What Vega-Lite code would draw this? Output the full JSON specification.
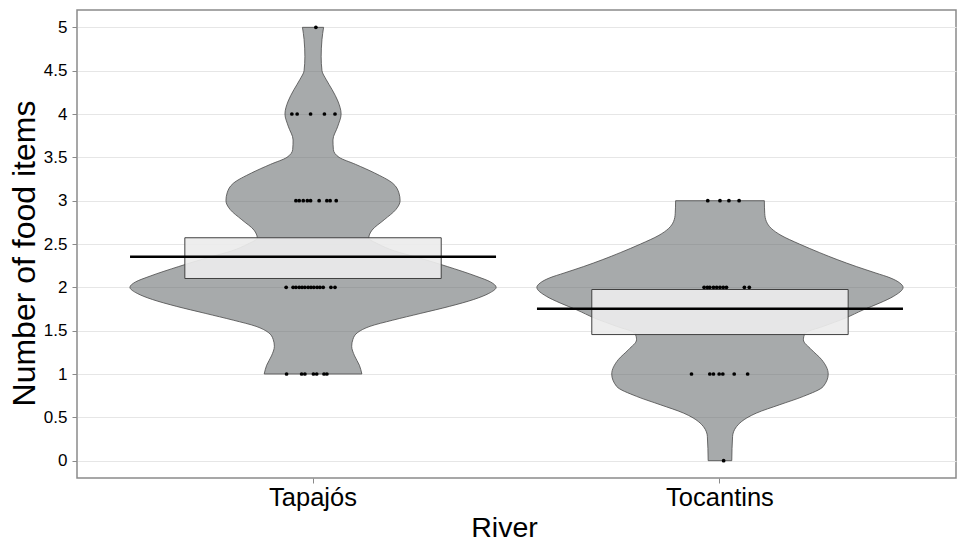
{
  "$schema": "https://vega.github.io/schema/vega-lite/v6.json",
  "width": 879,
  "height": 468,
  "autosize": {"type": "none"},
  "padding": {"left": 77, "top": 10, "right": 1, "bottom": 64},
  "background": "white",
  "datasets": {
    "bean": [
      {"river": "Tapajós", "y": 5.0, "xl": 0.974, "xr": 1.026},
      {"river": "Tapajós", "y": 4.86, "xl": 0.978, "xr": 1.022},
      {"river": "Tapajós", "y": 4.66, "xl": 0.980, "xr": 1.020},
      {"river": "Tapajós", "y": 4.5, "xl": 0.978, "xr": 1.022},
      {"river": "Tapajós", "y": 4.4, "xl": 0.968, "xr": 1.032},
      {"river": "Tapajós", "y": 4.28, "xl": 0.953, "xr": 1.047},
      {"river": "Tapajós", "y": 4.15, "xl": 0.939, "xr": 1.061},
      {"river": "Tapajós", "y": 4.0, "xl": 0.931, "xr": 1.069},
      {"river": "Tapajós", "y": 3.86, "xl": 0.939, "xr": 1.061},
      {"river": "Tapajós", "y": 3.7, "xl": 0.951, "xr": 1.049},
      {"river": "Tapajós", "y": 3.59, "xl": 0.950, "xr": 1.050},
      {"river": "Tapajós", "y": 3.5, "xl": 0.936, "xr": 1.064},
      {"river": "Tapajós", "y": 3.42, "xl": 0.896, "xr": 1.104},
      {"river": "Tapajós", "y": 3.32, "xl": 0.849, "xr": 1.151},
      {"river": "Tapajós", "y": 3.2, "xl": 0.804, "xr": 1.196},
      {"river": "Tapajós", "y": 3.09, "xl": 0.789, "xr": 1.211},
      {"river": "Tapajós", "y": 3.0, "xl": 0.786, "xr": 1.214},
      {"river": "Tapajós", "y": 2.9, "xl": 0.796, "xr": 1.204},
      {"river": "Tapajós", "y": 2.78, "xl": 0.825, "xr": 1.175},
      {"river": "Tapajós", "y": 2.66, "xl": 0.855, "xr": 1.145},
      {"river": "Tapajós", "y": 2.57, "xl": 0.863, "xr": 1.137},
      {"river": "Tapajós", "y": 2.5, "xl": 0.840, "xr": 1.160},
      {"river": "Tapajós", "y": 2.42, "xl": 0.800, "xr": 1.200},
      {"river": "Tapajós", "y": 2.35, "xl": 0.747, "xr": 1.253},
      {"river": "Tapajós", "y": 2.24, "xl": 0.670, "xr": 1.330},
      {"river": "Tapajós", "y": 2.13, "xl": 0.600, "xr": 1.400},
      {"river": "Tapajós", "y": 2.06, "xl": 0.563, "xr": 1.437},
      {"river": "Tapajós", "y": 2.0, "xl": 0.550, "xr": 1.450},
      {"river": "Tapajós", "y": 1.93, "xl": 0.568, "xr": 1.432},
      {"river": "Tapajós", "y": 1.86, "xl": 0.605, "xr": 1.395},
      {"river": "Tapajós", "y": 1.78, "xl": 0.665, "xr": 1.335},
      {"river": "Tapajós", "y": 1.7, "xl": 0.735, "xr": 1.265},
      {"river": "Tapajós", "y": 1.62, "xl": 0.805, "xr": 1.195},
      {"river": "Tapajós", "y": 1.55, "xl": 0.860, "xr": 1.140},
      {"river": "Tapajós", "y": 1.48, "xl": 0.890, "xr": 1.110},
      {"river": "Tapajós", "y": 1.4, "xl": 0.902, "xr": 1.098},
      {"river": "Tapajós", "y": 1.32, "xl": 0.905, "xr": 1.095},
      {"river": "Tapajós", "y": 1.21, "xl": 0.898, "xr": 1.102},
      {"river": "Tapajós", "y": 1.1, "xl": 0.886, "xr": 1.114},
      {"river": "Tapajós", "y": 1.0, "xl": 0.880, "xr": 1.120},
      {"river": "Tocantins", "y": 3.0, "xl": 1.891, "xr": 2.109},
      {"river": "Tocantins", "y": 2.85, "xl": 1.890, "xr": 2.110},
      {"river": "Tocantins", "y": 2.76, "xl": 1.886, "xr": 2.114},
      {"river": "Tocantins", "y": 2.68, "xl": 1.874, "xr": 2.126},
      {"river": "Tocantins", "y": 2.6, "xl": 1.850, "xr": 2.150},
      {"river": "Tocantins", "y": 2.5, "xl": 1.805, "xr": 2.195},
      {"river": "Tocantins", "y": 2.4, "xl": 1.755, "xr": 2.245},
      {"river": "Tocantins", "y": 2.32, "xl": 1.712, "xr": 2.288},
      {"river": "Tocantins", "y": 2.24, "xl": 1.665, "xr": 2.335},
      {"river": "Tocantins", "y": 2.165, "xl": 1.617, "xr": 2.383},
      {"river": "Tocantins", "y": 2.11, "xl": 1.582, "xr": 2.418},
      {"river": "Tocantins", "y": 2.05, "xl": 1.558, "xr": 2.442},
      {"river": "Tocantins", "y": 2.0, "xl": 1.550, "xr": 2.450},
      {"river": "Tocantins", "y": 1.895, "xl": 1.574, "xr": 2.426},
      {"river": "Tocantins", "y": 1.82, "xl": 1.607, "xr": 2.393},
      {"river": "Tocantins", "y": 1.74, "xl": 1.648, "xr": 2.352},
      {"river": "Tocantins", "y": 1.645, "xl": 1.692, "xr": 2.308},
      {"river": "Tocantins", "y": 1.55, "xl": 1.746, "xr": 2.254},
      {"river": "Tocantins", "y": 1.47, "xl": 1.791, "xr": 2.209},
      {"river": "Tocantins", "y": 1.395, "xl": 1.795, "xr": 2.205},
      {"river": "Tocantins", "y": 1.28, "xl": 1.775, "xr": 2.225},
      {"river": "Tocantins", "y": 1.165, "xl": 1.750, "xr": 2.250},
      {"river": "Tocantins", "y": 1.0, "xl": 1.734, "xr": 2.266},
      {"river": "Tocantins", "y": 0.857, "xl": 1.746, "xr": 2.254},
      {"river": "Tocantins", "y": 0.742, "xl": 1.795, "xr": 2.205},
      {"river": "Tocantins", "y": 0.646, "xl": 1.853, "xr": 2.147},
      {"river": "Tocantins", "y": 0.55, "xl": 1.910, "xr": 2.090},
      {"river": "Tocantins", "y": 0.435, "xl": 1.951, "xr": 2.049},
      {"river": "Tocantins", "y": 0.28, "xl": 1.969, "xr": 2.031},
      {"river": "Tocantins", "y": 0.0, "xl": 1.971, "xr": 2.029}
    ],
    "pts": [
      {"river": "Tapajós", "x": 1.007, "y": 5},
      {"river": "Tapajós", "x": 0.948, "y": 4},
      {"river": "Tapajós", "x": 0.961, "y": 4},
      {"river": "Tapajós", "x": 0.994, "y": 4},
      {"river": "Tapajós", "x": 1.028, "y": 4},
      {"river": "Tapajós", "x": 1.054, "y": 4},
      {"river": "Tapajós", "x": 0.958, "y": 3},
      {"river": "Tapajós", "x": 0.966, "y": 3},
      {"river": "Tapajós", "x": 0.976, "y": 3},
      {"river": "Tapajós", "x": 0.986, "y": 3},
      {"river": "Tapajós", "x": 0.994, "y": 3},
      {"river": "Tapajós", "x": 1.015, "y": 3},
      {"river": "Tapajós", "x": 1.034, "y": 3},
      {"river": "Tapajós", "x": 1.042, "y": 3},
      {"river": "Tapajós", "x": 1.057, "y": 3},
      {"river": "Tapajós", "x": 0.934, "y": 2},
      {"river": "Tapajós", "x": 0.951, "y": 2},
      {"river": "Tapajós", "x": 0.958, "y": 2},
      {"river": "Tapajós", "x": 0.966, "y": 2},
      {"river": "Tapajós", "x": 0.973, "y": 2},
      {"river": "Tapajós", "x": 0.980, "y": 2},
      {"river": "Tapajós", "x": 0.988, "y": 2},
      {"river": "Tapajós", "x": 0.995, "y": 2},
      {"river": "Tapajós", "x": 1.002, "y": 2},
      {"river": "Tapajós", "x": 1.010, "y": 2},
      {"river": "Tapajós", "x": 1.017, "y": 2},
      {"river": "Tapajós", "x": 1.025, "y": 2},
      {"river": "Tapajós", "x": 1.044, "y": 2},
      {"river": "Tapajós", "x": 1.054, "y": 2},
      {"river": "Tapajós", "x": 0.935, "y": 1},
      {"river": "Tapajós", "x": 0.972, "y": 1},
      {"river": "Tapajós", "x": 0.980, "y": 1},
      {"river": "Tapajós", "x": 1.001, "y": 1},
      {"river": "Tapajós", "x": 1.009, "y": 1},
      {"river": "Tapajós", "x": 1.027, "y": 1},
      {"river": "Tapajós", "x": 1.034, "y": 1},
      {"river": "Tocantins", "x": 1.970, "y": 3},
      {"river": "Tocantins", "x": 2.000, "y": 3},
      {"river": "Tocantins", "x": 2.022, "y": 3},
      {"river": "Tocantins", "x": 2.047, "y": 3},
      {"river": "Tocantins", "x": 1.961, "y": 2},
      {"river": "Tocantins", "x": 1.969, "y": 2},
      {"river": "Tocantins", "x": 1.975, "y": 2},
      {"river": "Tocantins", "x": 1.984, "y": 2},
      {"river": "Tocantins", "x": 1.992, "y": 2},
      {"river": "Tocantins", "x": 2.000, "y": 2},
      {"river": "Tocantins", "x": 2.008, "y": 2},
      {"river": "Tocantins", "x": 2.016, "y": 2},
      {"river": "Tocantins", "x": 2.060, "y": 2},
      {"river": "Tocantins", "x": 2.072, "y": 2},
      {"river": "Tocantins", "x": 1.930, "y": 1},
      {"river": "Tocantins", "x": 1.975, "y": 1},
      {"river": "Tocantins", "x": 1.984, "y": 1},
      {"river": "Tocantins", "x": 1.998, "y": 1},
      {"river": "Tocantins", "x": 2.007, "y": 1},
      {"river": "Tocantins", "x": 2.035, "y": 1},
      {"river": "Tocantins", "x": 2.068, "y": 1},
      {"river": "Tocantins", "x": 2.009, "y": 0}
    ],
    "summary": [
      {"river": "Tapajós", "mean": 2.352, "lo": 2.102, "hi": 2.572},
      {"river": "Tocantins", "mean": 1.752, "lo": 1.455, "hi": 1.975}
    ]
  },
  "resolve": {"scale": {"x": "independent"}, "axis": {"x": "independent"}},
  "layer": [
    {
      "data": {"name": "bean"},
      "mark": {"type": "area", "orient": "horizontal", "interpolate": "monotone", "fill": "#5f6566", "fillOpacity": 0.55, "stroke": "#4a4a4a", "strokeWidth": 0.8},
      "encoding": {
        "y": {"field": "y", "type": "quantitative", "scale": {"domain": [-0.2, 5.2], "nice": false, "zero": false},
          "axis": {"title": "Number of food items", "values": [0, 0.5, 1, 1.5, 2, 2.5, 3, 3.5, 4, 4.5, 5], "format": "~g", "grid": true}},
        "x": {"field": "xl", "type": "quantitative", "scale": {"domain": [0.42, 2.58], "nice": false, "zero": false}, "axis": null},
        "x2": {"field": "xr"},
        "detail": {"field": "river"}
      }
    },
    {
      "data": {"name": "summary"},
      "mark": {"type": "bar", "width": {"band": 0.63}, "fill": "#ebebeb", "fillOpacity": 0.92, "stroke": "#404040", "strokeWidth": 1},
      "encoding": {
        "x": {"field": "river", "type": "nominal", "sort": null, "scale": {"type": "band", "paddingInner": 0, "paddingOuter": 0.08},
          "axis": {"title": "River", "labelAngle": 0, "labelFontSize": 25.5, "labelPadding": 2, "titleFontSize": 28.5, "titleFontWeight": "normal", "titleX": 427, "titleY": 58, "titleBaseline": "alphabetic", "titleAlign": "center", "grid": false}},
        "y": {"field": "hi", "type": "quantitative", "title": "Number of food items"},
        "y2": {"field": "lo"}
      }
    },
    {
      "data": {"name": "summary"},
      "mark": {"type": "tick", "orient": "horizontal", "size": 366, "thickness": 2.5, "color": "black", "opacity": 1},
      "encoding": {
        "x": {"field": "river", "type": "nominal", "sort": null, "scale": {"type": "band", "paddingInner": 0, "paddingOuter": 0.08}, "axis": null},
        "y": {"field": "mean", "type": "quantitative", "title": "Number of food items"}
      }
    },
    {
      "data": {"name": "pts"},
      "mark": {"type": "circle", "size": 14, "color": "black", "opacity": 1},
      "encoding": {
        "x": {"field": "x", "type": "quantitative", "scale": {"domain": [0.42, 2.58], "nice": false, "zero": false}, "axis": null},
        "y": {"field": "y", "type": "quantitative", "title": "Number of food items"}
      }
    }
  ],
  "config": {
    "font": "Liberation Sans",
    "view": {"stroke": "#8a8a8a", "strokeWidth": 1.5},
    "axis": {
      "domain": false,
      "tickColor": "#8a8a8a",
      "tickSize": 5,
      "labelColor": "black",
      "titleColor": "black",
      "labelFont": "Liberation Sans",
      "titleFont": "Liberation Sans",
      "gridColor": "#e6e6e6",
      "gridWidth": 1
    },
    "axisY": {
      "labelFontSize": 17,
      "labelPadding": 5,
      "titleFontSize": 32,
      "titleFontWeight": "normal",
      "titleX": -53,
      "titleY": 243,
      "titleAngle": -90,
      "titleAlign": "center",
      "titleBaseline": "middle"
    }
  }
}
